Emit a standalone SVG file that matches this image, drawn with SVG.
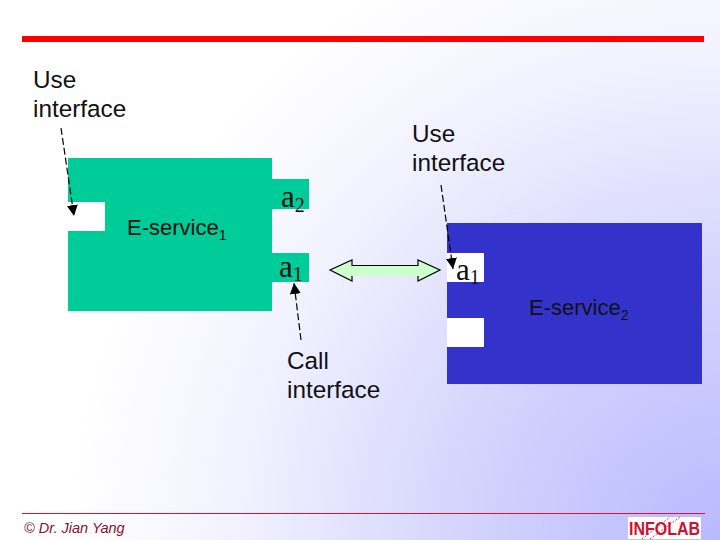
<svg xmlns="http://www.w3.org/2000/svg" width="720" height="540" viewBox="0 0 720 540">
<style>
.t{font-family:"Liberation Sans",Arial,sans-serif;font-size:24.300px;fill:#111}
.e{font-family:"Liberation Sans",Arial,sans-serif;font-size:22px;fill:#111}
.s{font-size:14px}
.a{font-family:"Liberation Serif","Times New Roman",serif;font-size:31px;fill:#111}
.d{fill:none;stroke:#000;stroke-width:1.200;stroke-dasharray:7 3}
</style>
<defs>
<radialGradient id="bg" gradientUnits="userSpaceOnUse" cx="720" cy="540" r="650">
<stop offset="0" stop-color="#b9b9ff"/><stop offset="0.4" stop-color="#d4d4fd"/><stop offset="0.75" stop-color="#f2f2ff"/><stop offset="1" stop-color="#ffffff"/>
</radialGradient>
<marker id="h" markerUnits="userSpaceOnUse" markerWidth="12" markerHeight="14" refX="11" refY="5.500" orient="auto"><path d="M0 0L11 5.500L0 11Z" fill="#000"/></marker>
</defs>
<rect width="720" height="540" fill="url(#bg)"/>
<rect x="22" y="36" width="682" height="6" fill="#ff0000"/>
<g id="service1">
<path d="M68 158H272V311H68Z" fill="#00cc99"/>
<rect x="272" y="179" width="37" height="30" fill="#00cc99"/>
<rect x="272" y="253" width="37" height="29" fill="#00cc99"/>
<rect x="68" y="202" width="37" height="29" fill="#fff"/>
<text class="e" x="127" y="235">E-service<tspan class="s" dy="5">1</tspan></text>
<text class="a" x="281" y="207">a<tspan font-size="20" dy="5">2</tspan></text>
<text class="a" x="279" y="277">a<tspan font-size="20" dy="4">1</tspan></text>
</g>
<g id="service2">
<rect x="447" y="223" width="255" height="161" fill="#3333cc"/>
<rect x="447" y="253" width="37" height="29" fill="#fff"/>
<rect x="447" y="318" width="37" height="29" fill="#fff"/>
<text class="e" x="529" y="315">E-service<tspan class="s" dy="5">2</tspan></text>
<text class="a" x="456" y="280">a<tspan font-size="20" dy="4">1</tspan></text>
</g>
<g id="labels">
<text class="t" x="33" y="88">Use</text><text class="t" x="33" y="117">interface</text>
<text class="t" x="412" y="142">Use</text><text class="t" x="412" y="171">interface</text>
<text class="t" x="287" y="369">Call</text><text class="t" x="287" y="398">interface</text>
</g>
<g id="connectors">
<path class="d" d="M61 128L74 216" marker-end="url(#h)"/>
<path class="d" d="M441 185L453 269" marker-end="url(#h)"/>
<path class="d" d="M301 340L294 283" marker-end="url(#h)"/>
<path d="M330 270L352 260V265.500H418V260L440 270L418 281V276H352V281Z" fill="#ccffcc"/>
<path d="M352 276V281L330 270L352 260V265.500H418V260L440 270L418 281V276" fill="none" stroke="#000" stroke-width="1.200"/>
</g>
<g id="footer">
<rect x="22" y="513" width="683" height="1" fill="#e01030"/>
<text x="24" y="533" font-family="Liberation Sans,Arial,sans-serif" font-style="italic" font-size="14.500" fill="#8a0f2a">© Dr. Jian Yang</text>
<rect x="628" y="517" width="73" height="22" fill="#fff"/>
<text x="629" y="535" font-family="Liberation Sans,Arial,sans-serif" font-weight="bold" font-size="18" fill="#cc1133" textLength="71" lengthAdjust="spacingAndGlyphs">INFOLAB</text>
<path d="M642 539L670 517M650 539L680 517" fill="none" stroke="#cc1133" stroke-width="0.800" stroke-dasharray="2 1.500"/>
</g>
</svg>
